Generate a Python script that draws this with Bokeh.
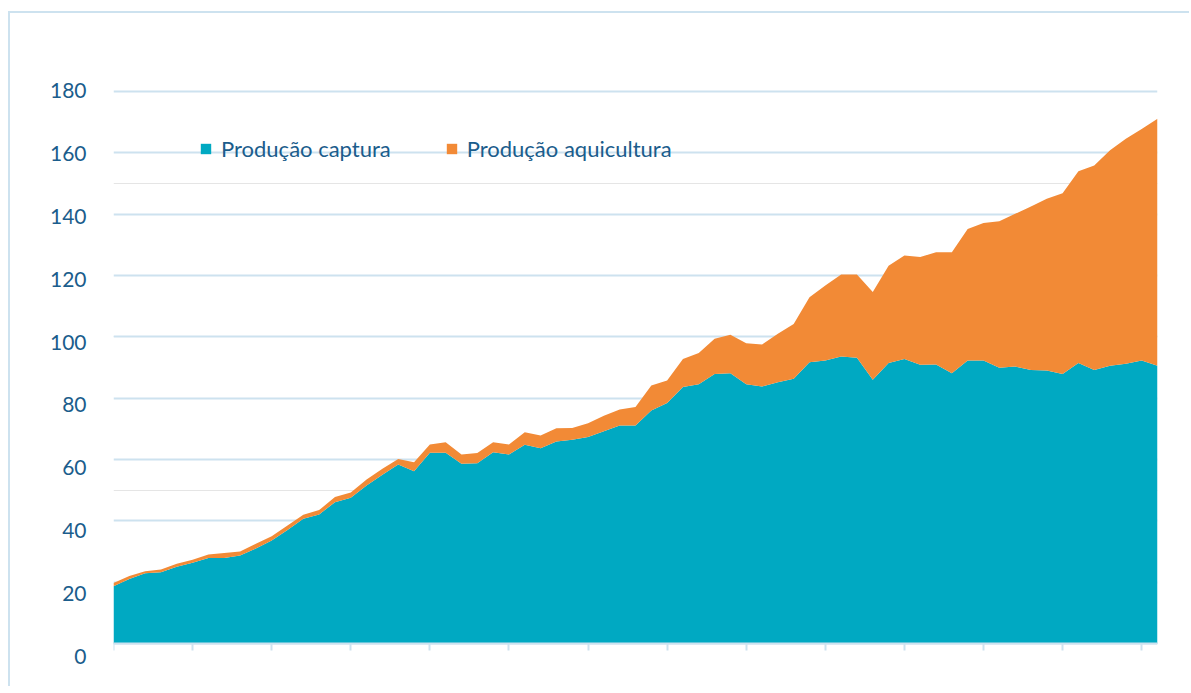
from bokeh.plotting import figure
from bokeh.models import (ColumnDataSource, Range1d, LinearAxis, Grid, SingleIntervalTicker,
                          FixedTicker, Legend, LegendItem)
from bokeh.embed import file_html
from bokeh.resources import INLINE

# ---- data (million tonnes) ----
years = list(range(1950, 2017))
capture = [18.7, 21.0, 22.9, 23.2, 25.0, 26.3, 27.9, 27.9, 28.7, 31.0,
           33.6, 37.0, 40.7, 42.1, 46.1, 47.5, 51.5, 55.0, 58.4, 56.2,
           62.2, 62.2, 58.6, 58.8, 62.4, 61.6, 64.8, 63.7, 65.9, 66.4,
           67.3, 69.2, 71.1, 71.1, 76.0, 78.4, 83.6, 84.5, 87.9, 88.1,
           84.5, 83.8, 85.2, 86.3, 91.7, 92.3, 93.6, 93.2, 86.0, 91.5,
           92.8, 90.9, 91.0, 88.1, 92.3, 92.3, 89.9, 90.3, 89.2, 89.0,
           87.9, 91.5, 89.2, 90.6, 91.2, 92.3, 90.6]
aquaculture = [1.0, 1.0, 0.7, 0.9, 1.0, 1.0, 1.1, 1.6, 1.3, 1.5,
               1.4, 1.5, 1.3, 1.4, 1.7, 1.7, 2.0, 2.0, 1.8, 2.9,
               2.7, 3.4, 3.0, 3.3, 3.2, 3.3, 4.1, 4.1, 4.3, 3.9,
               4.5, 5.1, 5.2, 6.0, 8.1, 7.4, 9.2, 10.2, 11.5, 12.6,
               13.4, 13.7, 15.8, 17.9, 21.2, 24.4, 26.7, 27.1, 28.6, 31.7,
               33.7, 35.1, 36.6, 39.5, 42.9, 44.8, 47.8, 49.8, 53.3, 56.0,
               58.9, 62.5, 66.7, 70.2, 73.4, 75.5, 80.5]
series_names = ["capture", "aquaculture"]
legend_labels = ["Produção captura", "Produção aquicultura"]
tick_years = list(range(1950, 2016, 5))
y_tick_step = 20

TEAL = "#00a9c2"
ORANGE = "#f28a36"
TEXT = "#1b5d8c"
LINE = "#cde2ef"
FONT = "Lato"

src = ColumnDataSource(dict(year=years, capture=capture, aquaculture=aquaculture))

W, H = 1181, 675
TOP, BOTTOM = 17, 23
FRAME_H = H - TOP - BOTTOM          # 635 px
K = 3.0667                          # px per unit (gridlines)
ZERO_FROM_BOTTOM = 22               # x axis sits 22 px above frame bottom
p = figure(width=W, height=H, output_backend="svg", toolbar_location=None,
           x_range=Range1d(1950, 2016),
           y_range=Range1d(-ZERO_FROM_BOTTOM / K, (FRAME_H - ZERO_FROM_BOTTOM) / K),
           y_axis_location=None,
           min_border_left=103, min_border_right=34,
           min_border_top=TOP, min_border_bottom=BOTTOM)
p.outline_line_color = None
p.background_fill_color = "white"
p.border_fill_color = "white"
p.xgrid.visible = False
p.styles = {"margin-left": "8px", "margin-top": "11px",
            "border-left": "2px solid " + LINE, "border-top": "2px solid " + LINE}

# horizontal gridlines
grid = Grid(dimension=1, ticker=SingleIntervalTicker(interval=y_tick_step),
            grid_line_color=LINE, grid_line_width=2, bounds=(0, 180))
p.add_layout(grid)

# labelled y axis (labels spread slightly wider than gridlines, as in the reference)
K2 = 3.1389
LAB0 = 9.5  # label "0" centre sits this many px above the frame bottom
p.extra_y_ranges = {"lab": Range1d(-LAB0 / K2, (FRAME_H - LAB0) / K2)}
yax = LinearAxis(y_range_name="lab", ticker=SingleIntervalTicker(interval=y_tick_step))
yax.axis_line_color = None
yax.major_tick_line_color = None
yax.minor_tick_line_color = None
yax.major_tick_out = 0
yax.major_tick_in = 0
yax.major_label_standoff = 23
yax.major_label_text_font = FONT
yax.major_label_text_font_size = "21px"
yax.major_label_text_color = TEXT
p.add_layout(yax, "left")

# x axis: line + outward ticks at y = 0, no labels
xa = p.xaxis[0]
xa.fixed_location = 0
xa.ticker = FixedTicker(ticks=tick_years)
xa.axis_line_color = LINE
xa.axis_line_width = 2
xa.major_tick_line_color = LINE
xa.major_tick_line_width = 2
xa.major_tick_out = 7
xa.major_tick_in = 0
xa.minor_tick_line_color = None
xa.major_label_overrides = {t: "" for t in tick_years}

rs = p.varea_stack(series_names, x="year", source=src, color=[TEAL, ORANGE])

legend = Legend(items=[LegendItem(label=legend_labels[0], renderers=[rs[0]]),
                       LegendItem(label=legend_labels[1], renderers=[rs[1]])],
                orientation="horizontal", location=(86, 503),
                padding=0, margin=0, spacing=54, label_standoff=9,
                glyph_width=13, glyph_height=13, label_height=20,
                background_fill_alpha=0, border_line_color=None,
                label_text_font=FONT, label_text_font_size="22px",
                label_text_color=TEXT)
p.add_layout(legend)

open("out.html", "w").write(file_html(p, INLINE))
